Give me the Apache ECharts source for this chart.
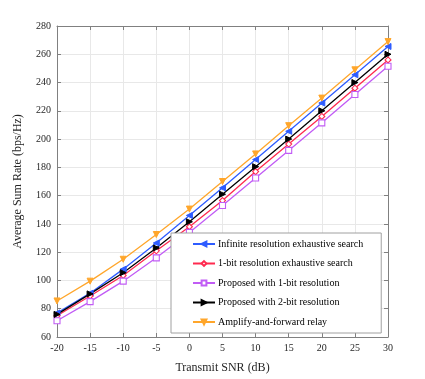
<!DOCTYPE html>
<html>
<head>
<meta charset="utf-8">
<script src="https://cdn.jsdelivr.net/npm/echarts@6/dist/echarts.min.js"></script>
<style>
  html, body { margin: 0; padding: 0; background: #fff; }
  #chart { width: 425px; height: 379px; }
</style>
</head>
<body>
<div id="chart"></div>
<script>
const snr = [-20, -15, -10, -5, 0, 5, 10, 15, 20, 25, 30];
const infiniteExhaustive = [77, 91, 108, 126.5, 146, 165.5, 185.5, 205.5, 225.5, 245.5, 265.5];
const oneBitExhaustive = [75, 89, 103.5, 121, 138, 156.5, 177, 196.5, 216, 236, 256];
const proposedOneBit = [71.5, 85, 99.5, 116, 134, 153, 172.5, 192, 211.5, 231.5, 251.5];
const proposedTwoBit = [76, 90.5, 105.5, 123, 141.5, 161, 180.5, 200, 220, 240, 260];
const afRelay = [85.5, 99.5, 115, 132.5, 150.5, 170, 189.5, 209.5, 229, 249, 269];

const serif = 'Liberation Serif';

const pairs = ys => snr.map((x, i) => [x, ys[i]]);

const makeSeries = (name, ys, color, symbol, rotate, hollow) => ({
  name,
  type: 'line',
  data: pairs(ys),
  symbol,
  symbolSize: 6,
  symbolRotate: rotate,
  showAllSymbol: true,
  lineStyle: { color, width: 1.3 },
  itemStyle: hollow
    ? { color: '#fff', borderColor: color, borderWidth: 1.1 }
    : { color, borderColor: color, borderWidth: 1 },
  color,
  z: 3,
});

const axisLine = { onZero: false, lineStyle: { color: '#808080' } };
const axisTick = { inside: true, length: 4, lineStyle: { color: '#808080' } };

const option = {
  animation: false,
  backgroundColor: '#fff',
  grid: { left: 57, right: 37, top: 26, bottom: 41 },
  legend: {
    orient: 'vertical',
    left: 171,
    top: 233,
    padding: [6, 18, 6, 21],
    itemWidth: 22,
    itemHeight: 6,
    itemGap: 9.5,
    backgroundColor: '#fff',
    borderColor: '#a0a0a0',
    borderWidth: 1,
    symbolRotate: 'inherit',
    textStyle: { fontFamily: serif, fontSize: 10, color: '#000', padding: [0, 0, 0, -2] },
    data: [
      'Infinite resolution exhaustive search',
      '1-bit resolution exhaustive search',
      'Proposed with 1-bit resolution',
      'Proposed with 2-bit resolution',
      'Amplify-and-forward relay',
    ],
  },
  xAxis: [
    {
      type: 'value',
      min: -20,
      max: 30,
      interval: 5,
      name: 'Transmit SNR (dB)',
      nameLocation: 'middle',
      nameGap: 25,
      nameTextStyle: { fontFamily: serif, fontSize: 12, color: '#262626' },
      axisLine,
      axisTick,
      axisLabel: { fontFamily: serif, fontSize: 10, color: '#262626', margin: 6 },
      splitLine: { show: true, lineStyle: { color: '#e8e8e8' } },
    },
    {
      type: 'value',
      position: 'top',
      min: -20,
      max: 30,
      interval: 5,
      axisLine,
      axisTick,
      axisLabel: { show: false },
      splitLine: { show: false },
    },
  ],
  yAxis: [
    {
      type: 'value',
      min: 60,
      max: 280,
      interval: 20,
      name: 'Average Sum Rate (bps/Hz)',
      nameLocation: 'middle',
      nameGap: 33,
      nameTextStyle: { fontFamily: serif, fontSize: 12, color: '#262626' },
      axisLine: { show: true, onZero: false, lineStyle: { color: '#808080' } },
      axisTick,
      axisLabel: { fontFamily: serif, fontSize: 10, color: '#262626', margin: 6 },
      splitLine: { show: true, lineStyle: { color: '#e8e8e8' } },
    },
    {
      type: 'value',
      position: 'right',
      min: 60,
      max: 280,
      interval: 20,
      axisLine: { show: true, onZero: false, lineStyle: { color: '#808080' } },
      axisTick,
      axisLabel: { show: false },
      splitLine: { show: false },
    },
  ],
  series: [
    makeSeries('Infinite resolution exhaustive search', infiniteExhaustive, '#2e5cff', 'triangle', 90, false),
    makeSeries('1-bit resolution exhaustive search', oneBitExhaustive, '#ff2a4f', 'diamond', 0, true),
    makeSeries('Proposed with 1-bit resolution', proposedOneBit, '#c15cf5', 'rect', 0, true),
    makeSeries('Proposed with 2-bit resolution', proposedTwoBit, '#000000', 'triangle', -90, false),
    makeSeries('Amplify-and-forward relay', afRelay, '#ffa62b', 'triangle', 180, false),
  ],
};

const chart = echarts.init(document.getElementById('chart'));
chart.setOption(option);
</script>
</body>
</html>
